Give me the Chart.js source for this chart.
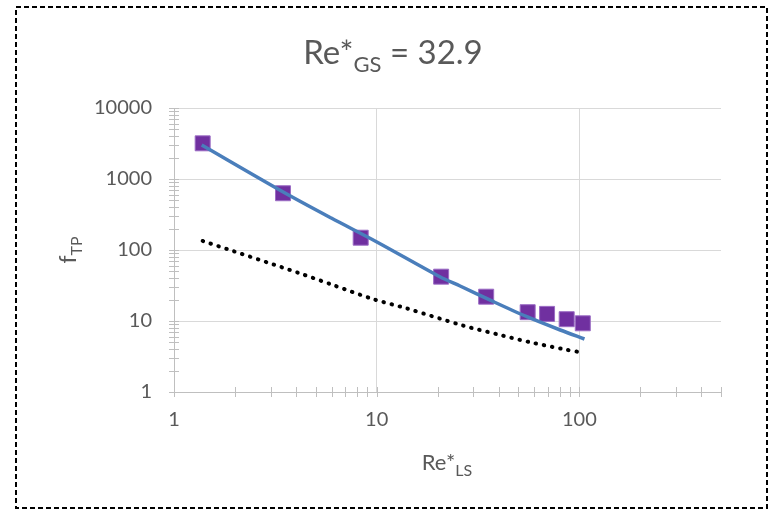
<!DOCTYPE html>
<html>
<head>
<meta charset="utf-8">
<script src="https://cdn.jsdelivr.net/npm/chart.js@4.4.1/dist/chart.umd.min.js"></script>
<style>
  html, body { margin: 0; padding: 0; background: #fff; }
  #wrap { width: 772px; height: 510px; }
</style>
</head>
<body>
<div id="wrap"><canvas id="chart" width="772" height="510"></canvas></div>
<script>
  // measured points (squares)
  var measuredX = [1.385, 3.45, 8.34, 20.8, 34.7, 55.6, 69.3, 86.6, 104];
  var measuredY = [3180, 630, 149, 42.1, 22.0, 13.3, 12.6, 10.6, 9.28];
  // solid blue curve
  var fitX = [1.37, 3.44, 5.97, 9.97, 20.5, 25.8, 37.7, 55.1, 80.5, 106];
  var fitY = [3010, 662, 282, 131, 42.1, 31.1, 18.7, 11.5, 7.47, 5.58];
  // dotted black curve
  var baseX = [1.385, 4.17, 6.09, 9.67, 14.0, 26.8, 39.4, 57.4, 84.4, 102];
  var baseY = [134, 47.0, 32.1, 20.2, 15.1, 8.59, 6.50, 5.01, 3.99, 3.62];

  var xTicks = [1, 10, 100];
  var yTicks = [1, 10, 100, 1000, 10000];
  var xMax = 500;
  var yMax = 10000;

  var titleParts = ["Re*", "GS", " = 32.9"];
  var xTitleParts = ["Re*", "LS"];
  var yTitleParts = ["f", "TP"];

  var FONT = "Lato, 'Open Sans', sans-serif";
  var TEXT = "#595959";

  function pts(xs, ys) {
    return xs.map(function (x, i) { return { x: x, y: ys[i] }; });
  }

  // draws "main" + subscript + tail centred on cx, baseline y
  function drawSub(ctx, parts, cx, y, size, subSize, subDrop) {
    ctx.font = size + "px " + FONT;
    var w0 = ctx.measureText(parts[0]).width;
    var w2 = parts[2] ? ctx.measureText(parts[2]).width : 0;
    ctx.font = subSize + "px " + FONT;
    var w1 = ctx.measureText(parts[1]).width;
    var x = cx - (w0 + w1 + w2) / 2;
    ctx.textAlign = "left";
    ctx.textBaseline = "alphabetic";
    ctx.fillStyle = TEXT;
    ctx.font = size + "px " + FONT;
    ctx.fillText(parts[0], x, y);
    ctx.font = subSize + "px " + FONT;
    ctx.fillText(parts[1], x + w0, y + subDrop);
    if (parts[2]) {
      ctx.font = size + "px " + FONT;
      ctx.fillText(parts[2], x + w0 + w1, y);
    }
  }

  var decor = {
    id: "decor",
    beforeDraw: function (chart) {
      var ctx = chart.ctx;
      ctx.save();
      ctx.fillStyle = "#fff";
      ctx.fillRect(0, 0, chart.width, chart.height);
      ctx.restore();
    },
    afterDatasetsDraw: function (chart) {
      var ctx = chart.ctx;
      var xs = chart.scales.x, ys = chart.scales.y;
      var area = chart.chartArea;
      ctx.save();
      ctx.strokeStyle = "#bfbfbf";
      ctx.lineWidth = 1;
      ctx.beginPath();
      var d, m, v, p;
      for (d = 1; d <= 100; d *= 10) {
        for (m = 1; m <= 9; m++) {
          v = m * d;
          if (v > xMax) break;
          p = Math.round(xs.getPixelForValue(v)) + 0.5;
          ctx.moveTo(p, area.bottom - 5);
          ctx.lineTo(p, area.bottom + 5);
        }
      }
      for (d = 1; d <= 10000; d *= 10) {
        for (m = 1; m <= 9; m++) {
          v = m * d;
          if (v > yMax) break;
          p = Math.round(ys.getPixelForValue(v)) + 0.5;
          ctx.moveTo(area.left - 5, p);
          ctx.lineTo(area.left + 5, p);
        }
      }
      ctx.stroke();
      ctx.restore();
    },
    afterDraw: function (chart) {
      var ctx = chart.ctx;
      ctx.save();
      drawSub(ctx, titleParts, 393, 64, 33, 22, 8);
      drawSub(ctx, xTitleParts, 447, 470, 22, 16, 6);
      ctx.translate(76, 250);
      ctx.rotate(-Math.PI / 2);
      drawSub(ctx, yTitleParts, 0, 0, 23, 16, 6);
      ctx.restore();

      ctx.save();
      ctx.strokeStyle = "#000";
      ctx.lineWidth = 2;
      ctx.setLineDash([5, 3]);
      ctx.strokeRect(16, 7, 751, 501);
      ctx.restore();
    }
  };

  var tickFont = { family: FONT, size: 20 };

  new Chart(document.getElementById("chart").getContext("2d"), {
    type: "scatter",
    data: {
      datasets: [
        {
          data: pts(fitX, fitY),
          showLine: true,
          borderColor: "#4a7ebb",
          borderWidth: 3.5,
          pointRadius: 0,
          tension: 0.3,
          order: 0
        },
        {
          data: pts(measuredX, measuredY),
          pointStyle: "rect",
          pointRadius: 10.6,
          backgroundColor: "#7030a0",
          borderColor: "#9b6cc4",
          borderWidth: 1,
          order: 1
        },
        {
          data: pts(baseX, baseY),
          showLine: true,
          borderColor: "#000",
          borderWidth: 4,
          borderDash: [0.5, 7.8],
          borderCapStyle: "round",
          pointRadius: 0,
          tension: 0.3,
          order: 2
        }
      ]
    },
    options: {
      responsive: false,
      animation: false,
      devicePixelRatio: 1,
      layout: { padding: { left: 0, right: 51, top: 108, bottom: 78 } },
      plugins: {
        legend: { display: false },
        tooltip: { enabled: false }
      },
      scales: {
        x: {
          type: "logarithmic",
          min: 1,
          max: xMax,
          afterFit: function (s) { s.height = 40; },
          afterBuildTicks: function (s) {
            s.ticks = xTicks.map(function (v) { return { value: v }; });
          },
          ticks: {
            callback: function (v) { return String(v); },
            color: TEXT,
            font: tickFont,
            padding: 16,
            autoSkip: false,
            maxRotation: 0
          },
          grid: { color: "#d9d9d9", drawTicks: false },
          border: { color: "#bfbfbf" }
        },
        y: {
          type: "logarithmic",
          min: 1,
          max: yMax,
          afterFit: function (s) { s.width = 174; },
          afterBuildTicks: function (s) {
            s.ticks = yTicks.map(function (v) { return { value: v }; });
          },
          ticks: {
            callback: function (v) { return String(v); },
            color: TEXT,
            font: tickFont,
            padding: 22,
            autoSkip: false
          },
          grid: { color: "#d9d9d9", drawTicks: false },
          border: { color: "#bfbfbf" }
        }
      }
    },
    plugins: [decor]
  });
</script>
</body>
</html>
